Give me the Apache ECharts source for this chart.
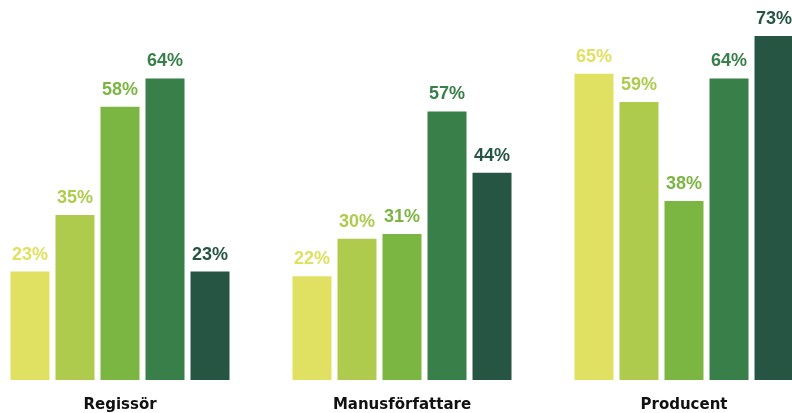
<!DOCTYPE html>
<html>
<head>
<meta charset="utf-8">
<script src="https://cdn.jsdelivr.net/npm/echarts@6/dist/echarts.min.js"></script>
<style>
  html, body { margin: 0; padding: 0; background: #fff; }
  #chart { width: 792px; height: 413px; }
</style>
</head>
<body>
<div id="chart"></div>
<script>
// kategorier och värden (procent)
const categories = ['Regissör', 'Manusförfattare', 'Producent'];
const s1 = [23, 22, 65];
const s2 = [35, 30, 59];
const s3 = [58, 31, 38];
const s4 = [64, 57, 64];
const s5 = [23, 44, 73];
const colors = ['#e0e062', '#aecb4e', '#7bb542', '#387f49', '#275544'];

const allSeries = [s1, s2, s3, s4, s5];

const chart = echarts.init(document.getElementById('chart'));

const option = {
  animation: false,
  grid: { left: -21, right: -33, top: 3, bottom: 33, outerBoundsMode: 'none', containLabel: false },
  xAxis: {
    type: 'category',
    data: categories,
    axisLine: { show: false },
    axisTick: { show: false },
    axisLabel: {
      color: '#111',
      fontFamily: 'DejaVu Sans, sans-serif',
      fontWeight: 'bold',
      fontSize: 15,
      margin: 18
    }
  },
  yAxis: {
    type: 'value',
    min: 0,
    max: 80,
    show: false,
    splitLine: { show: false }
  },
  series: allSeries.map((d, i) => ({
    type: 'bar',
    data: d,
    barWidth: 39,
    barGap: '15.4%',
    itemStyle: { color: colors[i] },
    label: {
      show: true,
      position: 'top',
      distance: 8,
      color: colors[i],
      fontFamily: 'Liberation Sans, Arial, sans-serif',
      fontWeight: 'bold',
      fontSize: 18,
      formatter: p => p.value + '%'
    }
  }))
};

chart.setOption(option);
</script>
</body>
</html>
